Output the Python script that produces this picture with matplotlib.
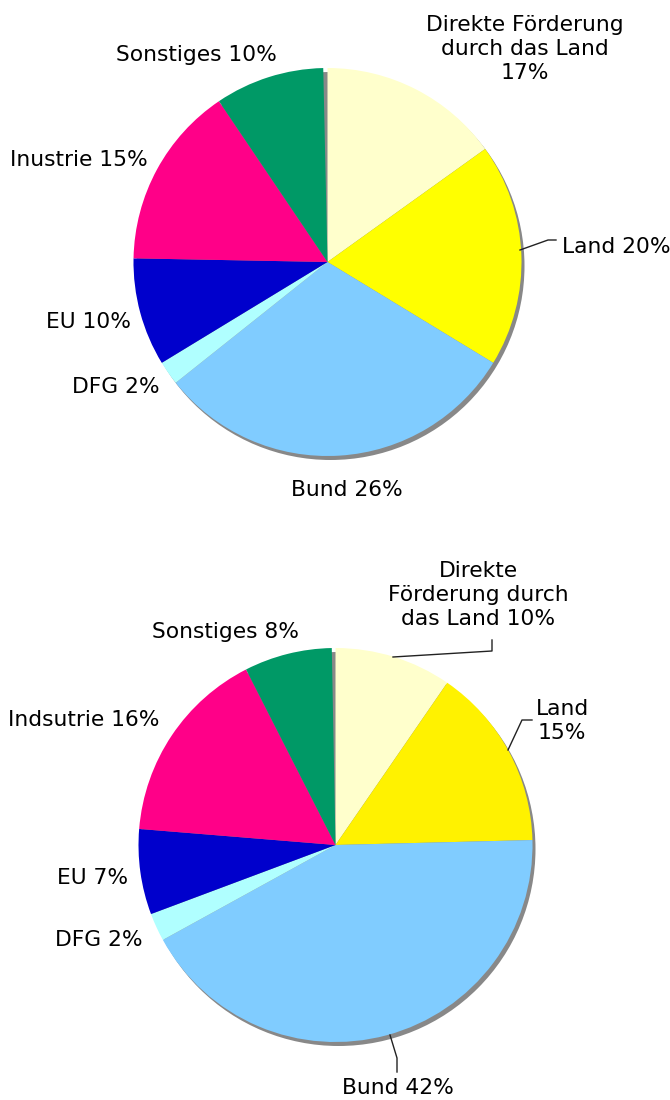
import matplotlib
matplotlib.use("Agg")
import matplotlib.pyplot as plt
from matplotlib.patches import Circle

# ---- data ----
categories_top = ["Direkte Förderung\ndurch das Land", "Land", "Bund", "DFG", "EU", "Inustrie", "Sonstiges"]
labels_top_pct = [17, 20, 26, 2, 10, 15, 10]
shares_top = [15.1, 18.6, 30.6, 2.0, 9.0, 15.25, 9.1]

categories_bot = ["Direkte\nFörderung durch\ndas Land", "Land\n", "Bund", "DFG", "EU", "Indsutrie", "Sonstiges"]
labels_bot_pct = [10, 15, 42, 2, 7, 16, 8]
shares_bot = [9.6, 15.0, 42.4, 2.3, 7.0, 16.2, 7.2]

colors_top = ["#FFFFCC", "#FFFF00", "#80CCFF", "#B0FFFF", "#0000CC", "#FF0088", "#009966"]
colors_bot = ["#FFFFCC", "#FFF200", "#80CCFF", "#B0FFFF", "#0000CC", "#FF0088", "#009966"]

W, H = 670, 1100
fig = plt.figure(figsize=(W / 100, H / 100), dpi=100)
ax = fig.add_axes([0, 0, 1, 1])

def Y(y):
    return H - y

def draw_pie(shares, colors, cx, cy, r):
    ax.add_patch(Circle((cx + 3, Y(cy) - 4), r, facecolor="#888888", edgecolor="none", zorder=0))
    ax.pie([s / 100 for s in shares], colors=colors, startangle=90, counterclock=False,
           center=(cx, Y(cy)), radius=r, normalize=False,
           wedgeprops=dict(linewidth=0, antialiased=True))

draw_pie(shares_top, colors_top, 327.5, 262, 194)
draw_pie(shares_bot, colors_bot, 335.5, 845, 197)

fs = 15.7
def lab(cat, pct):
    sep = "" if cat.endswith("\n") else ("\n" if cat.count("\n") == 1 and cat.startswith("Direkte F") else " ")
    return f"{cat}{sep}{pct}%"

# top labels
top_pos = [(525, 49, "center"), (562, 247, "left"), (347, 490, "center"), (160, 387, "right"),
           (131, 322, "right"), (148, 160, "right"), (196, 55, "center")]
for cat, pct, (x, y, ha) in zip(categories_top, labels_top_pct, top_pos):
    ax.text(x, Y(y), lab(cat, pct), ha=ha, va="center", fontsize=fs, linespacing=1.25,
            multialignment="center", color="black")

bot_pos = [(478, 595, "center"), (562, 721, "center"), (398, 1088, "center"), (143, 940, "right"),
           (128, 878, "right"), (159, 720, "right"), (225, 632, "center")]
for cat, pct, (x, y, ha) in zip(categories_bot, labels_bot_pct, bot_pos):
    ax.text(x, Y(y), lab(cat, pct), ha=ha, va="center", fontsize=fs, linespacing=1.25,
            multialignment="center", color="black")

# leader lines
leaders = [
    [(520, 250), (548, 240), (556, 240)],
    [(393, 657), (492, 651), (492, 640)],
    [(508, 750), (522, 720), (532, 720)],
    [(390, 1035), (397, 1058), (397, 1072)],
]
for pts in leaders:
    ax.plot([p[0] for p in pts], [Y(p[1]) for p in pts], color="#222222", lw=1, zorder=5)

ax.set_xlim(0, W)
ax.set_ylim(0, H)
ax.set_aspect("auto")
ax.axis("off")
fig.savefig("out.png", dpi=100)
